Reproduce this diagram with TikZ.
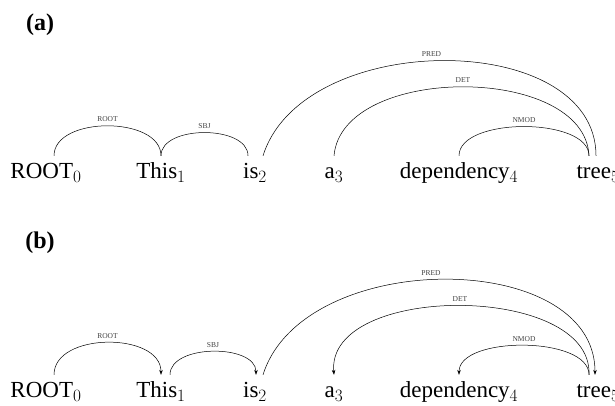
\documentclass[tikz,border=0pt]{standalone}
\usepackage{fontspec}
\setmainfont{Liberation Serif}
\usetikzlibrary{arrows.meta}

\begin{document}
\begin{tikzpicture}[x=1pt, y=1pt,
		word/.style={anchor=base, inner xsep=0pt, inner ysep=4pt, text height=19pt,
			font=\fontsize{23}{27}\selectfont},
		rel/.style={midway, above=3pt, inner sep=1pt, font=\fontsize{7.5}{9}\selectfont, text=black!75},
		arc/.style={line width=0.5pt},
		dep/.style={arc, -{Stealth[length=5pt, width=3.6pt]}},
		panel/.style={font=\fontsize{24}{28}\selectfont\bfseries}]
		\useasboundingbox (0,0) rectangle (615,406);
		
		% (a) unlabelled arcs
		\node[panel] (pa) at (40,381) {(a)};
		\node[word] (a0) at (46,227) {ROOT$_0$};
		\node[word] (a1) at (161,227) {This$_1$};
		\node[word] (a2) at (255,227) {is$_2$};
		\node[word] (a3) at (334,227) {a$_3$};
		\node[word] (a4) at (459,227) {dependency$_4$};
		\node[word] (a5) at (598,227) {tree$_5$};
		
		\draw[arc] ([xshift=8pt]a0.north) .. controls +(0,40) and +(0,40) .. (a1.north) node[rel] {ROOT};
		\draw[arc] (a1.north) .. controls +(0,31) and +(0,31) .. ([xshift=-7pt]a2.north) node[rel] {SBJ};
		\draw[arc] ([xshift=8pt]a2.north) .. controls +(40,127) and +(0,127) .. ([xshift=-2pt]a5.north) node[rel, xshift=-13pt] {PRED};
		\draw[arc] (a3.north) .. controls +(8,92) and +(-4,92) .. ([xshift=-9pt]a5.north) node[rel] {DET};
		\draw[arc] (a4.north) .. controls +(0,39) and +(0,39) .. ([xshift=-9pt]a5.north) node[rel] {NMOD};
		
		% (b) directed arcs
		\node[panel] (pb) at (40,163) {(b)};
		\node[word] (b0) at (46,8) {ROOT$_0$};
		\node[word] (b1) at (161,8) {This$_1$};
		\node[word] (b2) at (255,8) {is$_2$};
		\node[word] (b3) at (334,8) {a$_3$};
		\node[word] (b4) at (459,8) {dependency$_4$};
		\node[word] (b5) at (598,8) {tree$_5$};
		
		\draw[dep] ([xshift=8pt]b0.north) .. controls +(0,43) and +(0,43) .. (b1.north) node[rel] {ROOT};
		\draw[dep] ([xshift=9pt]b1.north) .. controls +(0,31) and +(0,31) .. ([xshift=1pt]b2.north) node[rel] {SBJ};
		\draw[dep] ([xshift=8pt]b2.north) .. controls +(40,127) and +(0,127) .. ([xshift=-3pt]b5.north) node[rel, xshift=-13pt] {PRED};
		\draw[dep] ([xshift=-9pt]b5.north) .. controls +(4,92) and +(-8,92) .. (b3.north) node[rel] {DET};
		\draw[dep] ([xshift=-9pt]b5.north) .. controls +(0,39) and +(0,39) .. (b4.north) node[rel] {NMOD};
	\end{tikzpicture}
\end{document}
